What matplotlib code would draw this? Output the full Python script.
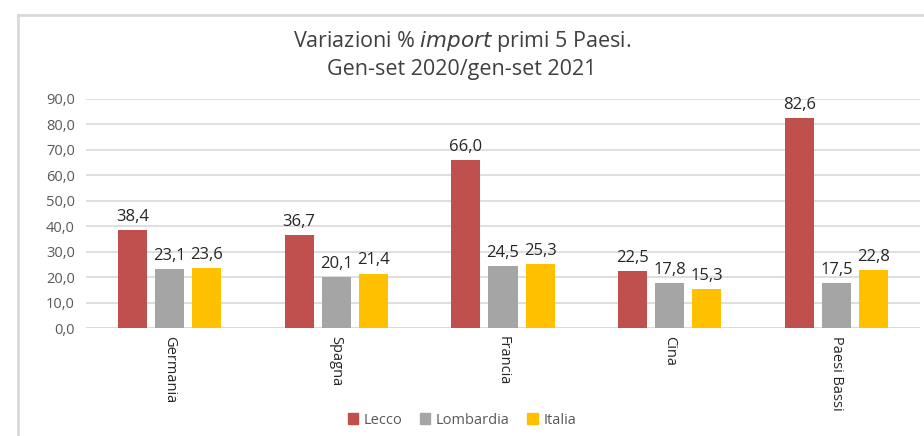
import numpy as np
import matplotlib
matplotlib.use("Agg")
import matplotlib.pyplot as plt
from matplotlib.lines import Line2D

paesi = ["Germania", "Spagna", "Francia", "Cina", "Paesi Bassi"]
lecco = [38.4, 36.7, 66.0, 22.5, 82.6]
lombardia = [23.1, 20.1, 24.5, 17.8, 17.5]
italia = [23.6, 21.4, 25.3, 15.3, 22.8]
serie = ["Lecco", "Lombardia", "Italia"]
colori = ["#C0504D", "#A5A5A5", "#FFC000"]

plt.rcParams["font.family"] = ["Open Sans", "DejaVu Sans"]

fig = plt.figure(figsize=(9.24, 4.36), dpi=100)
ax = fig.add_axes([86 / 924, 1 - 328 / 436, 834 / 924, 229 / 436])

# chart frame (left and top edges)
fig.add_artist(Line2D([18 / 924, 18 / 924], [0, 1 - 15 / 436], transform=fig.transFigure,
                      color="#D9D9D9", lw=2))
fig.add_artist(Line2D([18 / 924, 1], [1 - 15 / 436, 1 - 15 / 436], transform=fig.transFigure,
                      color="#D9D9D9", lw=2))

x = np.arange(len(paesi))
w = 0.174
step = 0.222
for i, (vals, col) in enumerate(zip([lecco, lombardia, italia], colori)):
    pos = x + (i - 1) * step
    ax.bar(pos, vals, width=w, color=col, zorder=3)
    for p, v in zip(pos, vals):
        ax.text(p, v + 2.0, f"{v:.1f}".replace(".", ","), ha="center", va="bottom",
                fontsize=12, color="#262626")

ax.set_xlim(-0.5, len(paesi) - 0.5)
ax.set_ylim(0, 90)
ax.set_yticks(np.arange(0, 91, 10))
ax.set_yticklabels([f"{t:.1f}".replace(".", ",") for t in np.arange(0, 91, 10)],
                   fontsize=10.5, color="#595959")
ax.set_xticks(x)
ax.set_xticklabels(paesi, rotation=270, fontsize=10.5, color="#262626", va="top")
ax.tick_params(length=0, pad=8)
ax.tick_params(axis="x", pad=6)
ax.grid(axis="y", color="#D9D9D9", lw=1.2, zorder=0)
for s in ax.spines.values():
    s.set_visible(False)
ax.axhline(0, color="#D9D9D9", lw=1.2, zorder=2)

fig.text(462 / 924, 1 - 42 / 436, "Variazioni % $\\it{import}$ primi 5 Paesi.",
         ha="center", va="center", fontsize=15.5, color="#404040")
fig.text(462 / 924, 1 - 69 / 436, "Gen-set 2020/gen-set 2021",
         ha="center", va="center", fontsize=15.5, color="#404040")

handles = [plt.Rectangle((0, 0), 1, 1, color=c) for c in colori]
fig.legend(handles, serie, loc="center", bbox_to_anchor=(462 / 924, 1 - 420 / 436),
           ncol=3, frameon=False, fontsize=10.5, handlelength=0.7, handleheight=0.7,
           handletextpad=0.4, columnspacing=1.2, labelcolor="#595959")

fig.savefig("out.png", dpi=100)
